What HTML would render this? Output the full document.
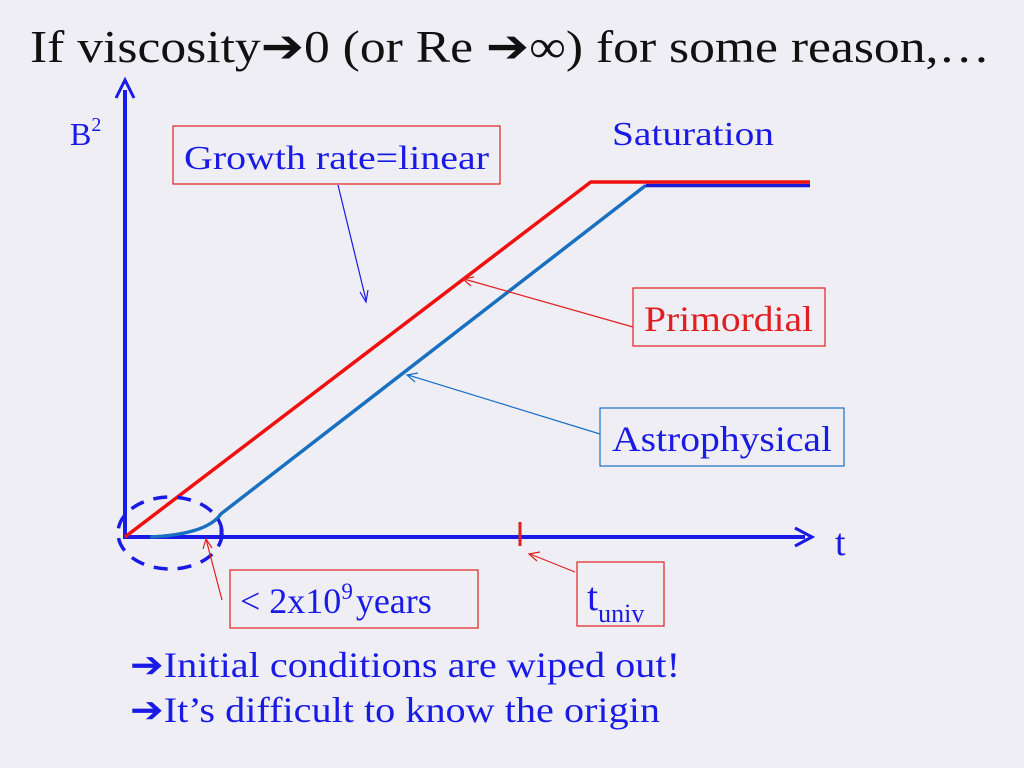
<!DOCTYPE html>
<html><head><meta charset="utf-8"><style>
html,body{margin:0;padding:0;background:#eeeef4;}
svg{display:block;font-family:"Liberation Serif",serif;}
</style></head><body>
<svg id="chart" width="1024" height="768" viewBox="0 0 1024 768">
<rect width="1024" height="768" fill="#eeeef4"/>
<text x="30" y="62" font-size="46" fill="#111" textLength="960" lengthAdjust="spacingAndGlyphs">If viscosity➔0 (or Re ➔∞) for some reason,…</text>
<g id="axes">
<line x1="125" y1="538" x2="125" y2="90" stroke="#1a1ae6" stroke-width="4"/>
<path d="M116 98 L125 80 L134 98" fill="none" stroke="#1a1ae6" stroke-width="3"/>
<line x1="123" y1="537" x2="805" y2="537" stroke="#1a1ae6" stroke-width="4"/>
<path d="M795 528 L812 537 L795 546" fill="none" stroke="#1a1ae6" stroke-width="3"/>
<line x1="520" y1="522" x2="520" y2="546" stroke="#e02020" stroke-width="3"/>
<line x1="221" y1="527" x2="221" y2="541" stroke="#1a1ae6" stroke-width="3"/>
<text x="70" y="145" font-size="32" fill="#1a1ae6">B<tspan font-size="20" dy="-14">2</tspan></text>
<text x="835" y="555" font-size="38" fill="#1a1ae6">t</text>
</g>
<g id="series"></g>
<ellipse cx="170" cy="533" rx="52" ry="36" fill="none" stroke="#1a1ae6" stroke-width="3.5" stroke-dasharray="14,10"/>
<text x="612" y="145" font-size="34" fill="#1a1ae6" textLength="162" lengthAdjust="spacingAndGlyphs">Saturation</text>
<rect x="173" y="126" width="327" height="58" fill="none" stroke="#e02020" stroke-width="1.2"/>
<text x="184" y="169" font-size="34" fill="#1a1ae6" textLength="305" lengthAdjust="spacingAndGlyphs">Growth rate=linear</text>
<line x1="338" y1="185" x2="366" y2="300" stroke="#1a1ae6" stroke-width="1.2"/>
<path d="M360 292 L366 302 L368 290" fill="none" stroke="#1a1ae6" stroke-width="1.2"/>
<rect x="633" y="288" width="192" height="58" fill="none" stroke="#e02020" stroke-width="1.2"/>
<text x="644" y="331" font-size="36" fill="#e02020" textLength="169" lengthAdjust="spacingAndGlyphs">Primordial</text>
<line x1="633" y1="327" x2="464" y2="279" stroke="#e02020" stroke-width="1.2"/>
<path d="M474 277 L463 279 L471 286" fill="none" stroke="#e02020" stroke-width="1.2"/>
<rect x="600" y="408" width="244" height="58" fill="none" stroke="#1a6ec8" stroke-width="1.2"/>
<text x="612" y="451" font-size="36" fill="#1a1ae6" textLength="220" lengthAdjust="spacingAndGlyphs">Astrophysical</text>
<line x1="600" y1="434" x2="408" y2="375" stroke="#1a6ec8" stroke-width="1.2"/>
<path d="M418 373 L407 375 L415 382" fill="none" stroke="#1a6ec8" stroke-width="1.2"/>
<rect x="230" y="570" width="248" height="58" fill="none" stroke="#e02020" stroke-width="1.2"/>
<text x="240" y="613" font-size="36" fill="#1a1ae6">&lt; 2x10<tspan font-size="23" dy="-14">9</tspan><tspan dy="14" dx="3">years</tspan></text>
<line x1="222" y1="600" x2="206" y2="539" stroke="#e02020" stroke-width="1.2"/>
<path d="M203 549 L206 539 L212 548" fill="none" stroke="#e02020" stroke-width="1.2"/>
<rect x="577" y="562" width="87" height="64" fill="none" stroke="#e02020" stroke-width="1.2"/>
<text x="587" y="610" font-size="40" fill="#1a1ae6">t<tspan font-size="26" dy="12">univ</tspan></text>
<line x1="575" y1="572" x2="530" y2="554" stroke="#e02020" stroke-width="1.2"/>
<path d="M540 552 L529 554 L537 561" fill="none" stroke="#e02020" stroke-width="1.2"/>
<text x="130" y="677" font-size="36" fill="#1a1ae6" textLength="550" lengthAdjust="spacingAndGlyphs">➔Initial conditions are wiped out!</text>
<text x="130" y="722" font-size="36" fill="#1a1ae6" textLength="530" lengthAdjust="spacingAndGlyphs">➔It’s difficult to know the origin</text>
</svg>
<script>
// data (arbitrary units: time 0..100, B^2 0..100)
const tDomain = [0, 100];
const bDomain = [0, 100];
const primordialT = [0, 68, 100];
const primordialB = [0, 100, 100];
const astroT = [3.7, 8, 12, 14, 76, 100];
const astroB = [0, 0.8, 3.5, 6.5, 99, 99];
const sx = t => 125 + (t - tDomain[0]) / (tDomain[1] - tDomain[0]) * 685;
const sy = b => 537 - (b - bDomain[0]) / (bDomain[1] - bDomain[0]) * 355;
const g = document.getElementById('series');
const NS = 'http://www.w3.org/2000/svg';
function path(ts, bs, color, smooth) {
  let d = 'M' + sx(ts[0]) + ' ' + sy(bs[0]);
  if (smooth) {
    d += ' Q' + sx(ts[2]) + ' ' + sy(bs[1]) + ' ' + sx(ts[3]) + ' ' + sy(bs[3]);
    for (let i = 4; i < ts.length; i++) d += ' L' + sx(ts[i]) + ' ' + sy(bs[i]);
  } else {
    for (let i = 1; i < ts.length; i++) d += ' L' + sx(ts[i]) + ' ' + sy(bs[i]);
  }
  const p = document.createElementNS(NS, 'path');
  p.setAttribute('d', d);
  p.setAttribute('fill', 'none');
  p.setAttribute('stroke', color);
  p.setAttribute('stroke-width', '3.5');
  return p;
}
const a = path(astroT.slice(0, 5), astroB.slice(0, 5), '#1a70c0', true);


g.appendChild(a);
const as = path(astroT.slice(4), astroB.slice(4), '#1a1ad6', false);


g.appendChild(as);
const pr = path(primordialT, primordialB, '#f01010', false);


g.appendChild(pr);
</script>
</body></html>
